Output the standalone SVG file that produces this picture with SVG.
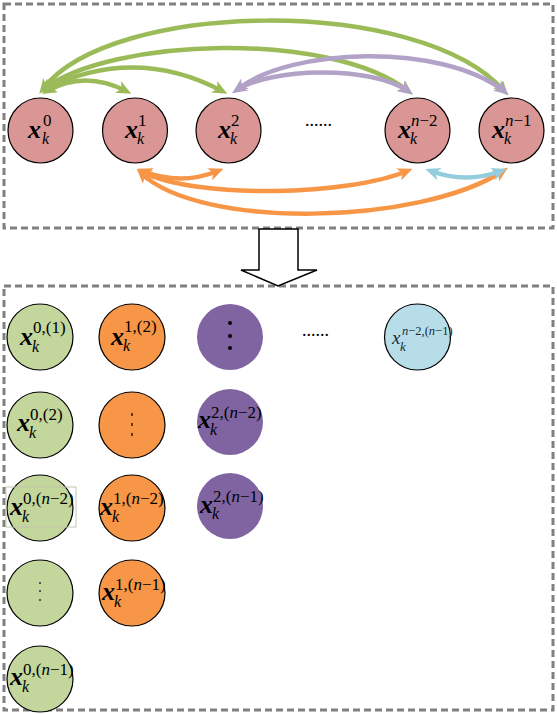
<svg xmlns="http://www.w3.org/2000/svg" width="557" height="714" viewBox="0 0 557 714">
<defs>
<style>
.box{fill:none;stroke:#808080;stroke-width:3;stroke-dasharray:7 4}
.pink{fill:#D99694;stroke:#000;stroke-width:1.2}
.green{fill:#C3D69B;stroke:#000;stroke-width:1.2}
.orange{fill:#F79646;stroke:#000;stroke-width:1.2}
.purple{fill:#8064A2;stroke:none}
.blue{fill:#B7DEE8;stroke:#000;stroke-width:1.2}
.t{font-family:"Liberation Serif","Times New Roman",serif;fill:#000}
.x{font-size:26px;font-style:italic;font-weight:bold}
.k{font-size:16px;font-style:italic}
.s{font-size:17px}
.i{font-style:italic}
.ag{fill:none;stroke:#9BBB59;stroke-width:4.5;marker-start:url(#mg);marker-end:url(#mg)}
.ap{fill:none;stroke:#B3A2C7;stroke-width:4.5;marker-start:url(#mp);marker-end:url(#mp)}
.ao{fill:none;stroke:#F79646;stroke-width:4.5;marker-start:url(#mo);marker-end:url(#mo)}
.al{fill:none;stroke:#93CDDD;stroke-width:4.5;marker-start:url(#ml);marker-end:url(#ml)}
</style>
<marker id="mg" markerUnits="userSpaceOnUse" markerWidth="15" markerHeight="13" refX="9" refY="6.5" orient="auto-start-reverse"><path d="M0,0 L15,6.5 L0,13 L4,6.5 z" fill="#9BBB59"/></marker>
<marker id="mp" markerUnits="userSpaceOnUse" markerWidth="15" markerHeight="13" refX="9" refY="6.5" orient="auto-start-reverse"><path d="M0,0 L15,6.5 L0,13 L4,6.5 z" fill="#B3A2C7"/></marker>
<marker id="mo" markerUnits="userSpaceOnUse" markerWidth="15" markerHeight="13" refX="9" refY="6.5" orient="auto-start-reverse"><path d="M0,0 L15,6.5 L0,13 L4,6.5 z" fill="#F79646"/></marker>
<marker id="ml" markerUnits="userSpaceOnUse" markerWidth="15" markerHeight="13" refX="9" refY="6.5" orient="auto-start-reverse"><path d="M0,0 L15,6.5 L0,13 L4,6.5 z" fill="#93CDDD"/></marker>
</defs>
<rect width="557" height="714" fill="#fff"/>
<rect class="box" x="4" y="4" width="549" height="224"/>
<rect class="box" x="4" y="286" width="549" height="424"/>

<g id="connectors">
<path class="ag" d="M 47 91 Q 85 70 126 91"/>
<path class="ag" d="M 45 89 Q 135 45 222 91"/>
<path class="ag" d="M 44 89 C 110 38, 330 30, 408 91"/>
<path class="ag" d="M 43 89 C 110 0, 420 -5, 504 91"/>
<path class="ap" d="M 237 90 C 270 68, 370 65, 408 91"/>
<path class="ap" d="M 238 89 C 290 48, 440 42, 504 91"/>
<path class="ao" d="M 143 171 Q 180 186 218 171"/>
<path class="ao" d="M 142 172 C 200 200, 350 195, 407 171"/>
<path class="ao" d="M 141 173 C 200 230, 420 225, 503 171"/>
<path class="al" d="M 431 171 Q 466 184 501 171"/>
</g>

<g id="n0"><circle class="pink" cx="40.5" cy="130.5" r="32.5"/>
<text class="t"><tspan class="x" x="28" y="137.5">x</tspan><tspan class="s" x="43" y="126">0</tspan><tspan class="k" x="42" y="143.5">k</tspan></text></g>
<g id="n1"><circle class="pink" cx="135" cy="130.5" r="32.5"/>
<text class="t"><tspan class="x" x="125" y="137.5">x</tspan><tspan class="s" x="138" y="126">1</tspan><tspan class="k" x="137" y="143.5">k</tspan></text></g>
<g id="n2"><circle class="pink" cx="228.5" cy="130.5" r="32.5"/>
<text class="t"><tspan class="x" x="218" y="137.5">x</tspan><tspan class="s" x="231" y="126">2</tspan><tspan class="k" x="230" y="143.5">k</tspan></text></g>
<g id="ndots"><text class="t" x="305" y="126" style="font-size:18px">......</text></g>
<g id="nn2"><circle class="pink" cx="417.5" cy="130.5" r="32.5"/>
<text class="t"><tspan class="x" x="398" y="137.5">x</tspan><tspan class="s" x="411" y="126"><tspan class="i">n</tspan>−2</tspan><tspan class="k" x="410" y="143.5">k</tspan></text></g>
<g id="nn1"><circle class="pink" cx="511.5" cy="130.5" r="32.5"/>
<text class="t"><tspan class="x" x="492" y="137.5">x</tspan><tspan class="s" x="505" y="126"><tspan class="i">n</tspan>−1</tspan><tspan class="k" x="504" y="143.5">k</tspan></text></g>

<g id="blockarrow"><path d="M259,229 L298,229 L298,270 L317,270 L278,286 L241,270 L259,270 Z" fill="#fff" stroke="#000" stroke-width="1.5"/></g>

<g id="b01"><circle class="green" cx="40" cy="337" r="33"/>
<text class="t"><tspan class="x" x="20" y="345">x</tspan><tspan class="s" x="33" y="333">0,(1)</tspan><tspan class="k" x="32" y="352">k</tspan></text></g>
<g id="b12"><circle class="orange" cx="132" cy="337" r="33"/>
<text class="t"><tspan class="x" x="111" y="345">x</tspan><tspan class="s" x="124" y="332">1,(2)</tspan><tspan class="k" x="123" y="351">k</tspan></text></g>
<g id="b2v"><circle class="purple" cx="230" cy="337" r="33"/>
<circle cx="230" cy="323" r="2" fill="#000"/><circle cx="230" cy="336" r="2" fill="#000"/><circle cx="230" cy="348" r="2" fill="#000"/></g>
<g id="bdots"><text class="t" x="302" y="336" style="font-size:18px">......</text></g>
<g id="bn2"><circle class="blue" cx="417.5" cy="337" r="33"/>
<text class="t" style="fill:#1a2a3a"><tspan x="392" y="344" style="font-size:19px;font-style:italic">x</tspan><tspan x="402" y="335" style="font-size:12.5px"><tspan class="i">n</tspan>−2,(<tspan class="i">n</tspan>−1)</tspan><tspan x="400" y="351" style="font-size:13px;font-style:italic">k</tspan></text></g>

<g id="b02"><circle class="green" cx="40" cy="425" r="33"/>
<text class="t"><tspan class="x" x="17" y="431">x</tspan><tspan class="s" x="30" y="420">0,(2)</tspan><tspan class="k" x="29" y="438">k</tspan></text></g>
<g id="b1v"><circle class="orange" cx="132" cy="425" r="33"/>
<rect x="131" y="413" width="2" height="3" fill="#6b3510"/><rect x="131" y="423" width="2" height="3" fill="#6b3510"/><rect x="131" y="433" width="2" height="3" fill="#6b3510"/></g>
<g id="b2n2"><circle class="purple" cx="230" cy="422" r="33"/>
<text class="t"><tspan class="x" x="198" y="428">x</tspan><tspan class="s" x="211" y="418">2,(<tspan class="i">n</tspan>−2)</tspan><tspan class="k" x="210" y="435">k</tspan></text></g>

<g id="b0n2"><circle class="green" cx="40" cy="508" r="33"/>
<rect x="6" y="487" width="70" height="40" fill="none" stroke="#c4c4ae" stroke-width="1"/>
<text class="t"><tspan class="x" x="10" y="515">x</tspan><tspan class="s" x="23" y="504">0,(<tspan class="i">n</tspan>−2)</tspan><tspan class="k" x="22" y="522">k</tspan></text></g>
<g id="b1n2"><circle class="orange" cx="132" cy="508" r="33"/>
<text class="t"><tspan class="x" x="100" y="515">x</tspan><tspan class="s" x="113" y="504">1,(<tspan class="i">n</tspan>−2)</tspan><tspan class="k" x="112" y="522">k</tspan></text></g>
<g id="b2n1"><circle class="purple" cx="230" cy="506" r="33"/>
<text class="t"><tspan class="x" x="200" y="513">x</tspan><tspan class="s" x="213" y="502">2,(<tspan class="i">n</tspan>−1)</tspan><tspan class="k" x="212" y="519">k</tspan></text></g>

<g id="b0v"><circle class="green" cx="40" cy="593" r="33"/>
<rect x="39" y="582" width="2" height="2" fill="#555"/><rect x="39" y="590" width="2" height="2" fill="#555"/><rect x="39" y="599" width="2" height="2" fill="#555"/></g>
<g id="b1n1"><circle class="orange" cx="132" cy="593" r="33"/>
<text class="t"><tspan class="x" x="102" y="600">x</tspan><tspan class="s" x="115" y="590">1,(<tspan class="i">n</tspan>−1)</tspan><tspan class="k" x="114" y="607">k</tspan></text></g>

<g id="b0n1"><circle class="green" cx="40" cy="679" r="33"/>
<text class="t"><tspan class="x" x="10" y="685">x</tspan><tspan class="s" x="23" y="675">0,(<tspan class="i">n</tspan>−1)</tspan><tspan class="k" x="22" y="692">k</tspan></text></g>
</svg>
